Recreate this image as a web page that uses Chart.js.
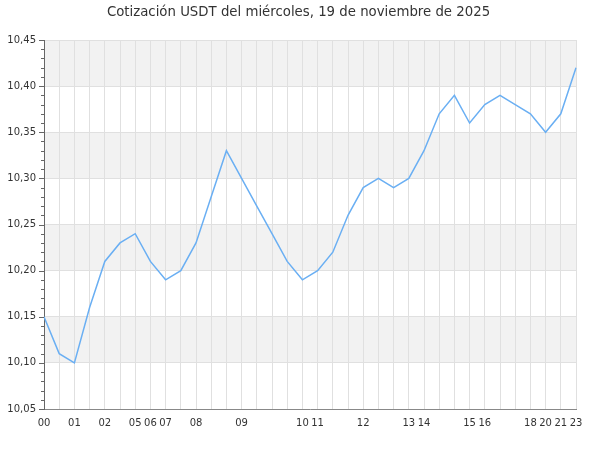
<!DOCTYPE html>
<html>
<head>
<meta charset="utf-8">
<script src="https://cdn.jsdelivr.net/npm/chart.js@4/dist/chart.umd.min.js"></script>
<style>
  html, body { margin: 0; padding: 0; background: #fff; }
  #wrap { width: 600px; height: 450px; }
</style>
</head>
<body>
<div id="wrap"><canvas id="chart"></canvas></div>
<script>
const titleText = "Cotización USDT del miércoles, 19 de noviembre de 2025";

// hour of each quote (one label per point; repeated hours are hidden on the axis)
const hours = [
  "00", "00", "01", "01", "02", "02", "05", "06", "07", "07",
  "08", "08", "08", "09", "09", "09", "09", "10", "11", "11",
  "11", "12", "12", "12", "13", "14", "14", "14", "15", "16",
  "16", "16", "18", "20", "21", "23",
];

const prices = [
  10.15, 10.11, 10.10, 10.16, 10.21, 10.23, 10.24, 10.21, 10.19, 10.20,
  10.23, 10.28, 10.33, 10.30, 10.27, 10.24, 10.21, 10.19, 10.20, 10.22,
  10.26, 10.29, 10.30, 10.29, 10.30, 10.33, 10.37, 10.39, 10.36, 10.38,
  10.39, 10.38, 10.37, 10.35, 10.37, 10.42,
];

const yMin = 10.05;
const yMax = 10.45;
const yMajor = 0.05;

const isMajor = (v) => Math.round(v * 100) % 5 === 0;

// alternating grey bands between the major y ticks, y tick marks and the title
const decorPlugin = {
  id: "decor",
  beforeDraw: (chart) => {
    const { ctx, chartArea } = chart;
    const y = chart.scales.y;
    ctx.save();
    ctx.fillStyle = "#f2f2f2";
    for (let i = 0; yMax - (i + 1) * yMajor >= yMin - 1e-9; i += 2) {
      const top = y.getPixelForValue(yMax - i * yMajor);
      const bottom = y.getPixelForValue(yMax - (i + 1) * yMajor);
      ctx.fillRect(chartArea.left, top, chartArea.right - chartArea.left, bottom - top);
    }
    ctx.restore();
  },
  afterDraw: (chart) => {
    const { ctx } = chart;
    const y = chart.scales.y;
    ctx.save();
    ctx.strokeStyle = "#666";
    ctx.lineWidth = 1;
    y.ticks.forEach((t) => {
      const py = Math.round(y.getPixelForValue(t.value)) + 0.5;
      const len = isMajor(t.value) ? 5 : 3;
      ctx.beginPath();
      ctx.moveTo(y.right - len, py);
      ctx.lineTo(y.right, py);
      ctx.stroke();
    });

    /** title is centred on the whole canvas, not on the padded layout box */
    ctx.fillStyle = "#333";
    ctx.font = "13.3px 'DejaVu Sans'";
    ctx.textAlign = "center";
    ctx.textBaseline = "alphabetic";
    ctx.fillText(titleText, chart.width / 2 - 1.5, 16);
    ctx.restore();
  },
};

const options = {
  type: "line",
  data: {
    labels: hours,
    datasets: [
      {
        label: "USDT",
        data: prices,
        borderColor: "#6aaff3",
        borderWidth: 1.5,
        pointRadius: 0,
        tension: 0,
        fill: false,
      },
    ],
  },
  options: {
    responsive: false,
    animation: false,
    layout: { padding: { left: 0, right: 24, top: 40, bottom: 0 } },
    plugins: {
      legend: { display: false },
      tooltip: { enabled: false },
      title: { display: false },
    },
    scales: {
      x: {
        type: "category",
        grid: { color: "#e0e0e0", drawTicks: false },
        border: { color: "#888" },
        ticks: {
          autoSkip: false,
          maxRotation: 0,
          padding: 8,
          color: "#333",
          font: { family: "DejaVu Sans", size: 10 },
          callback: (value, index) =>
            index === 0 || hours[index] !== hours[index - 1] ? hours[index] : "",
        },
        afterFit: (scale) => { scale.height = 41; },
      },
      y: {
        min: yMin,
        max: yMax,
        grid: {
          drawTicks: false,
          color: (c) => (c.tick && isMajor(c.tick.value) ? "#e0e0e0" : "rgba(0,0,0,0)"),
        },
        border: { color: "#666" },
        ticks: {
          stepSize: 0.01,
          autoSkip: false,
          padding: 8,
          color: "#333",
          font: { family: "DejaVu Sans", size: 10 },
          callback: (value) => (isMajor(value) ? value.toFixed(2).replace(".", ",") : ""),
        },
        afterFit: (scale) => { scale.width = 44; },
      },
    },
  },
  plugins: [decorPlugin],
};

const canvas = document.getElementById("chart");
canvas.width = 600;
canvas.height = 450;
new Chart(canvas, options);
</script>
</body>
</html>
